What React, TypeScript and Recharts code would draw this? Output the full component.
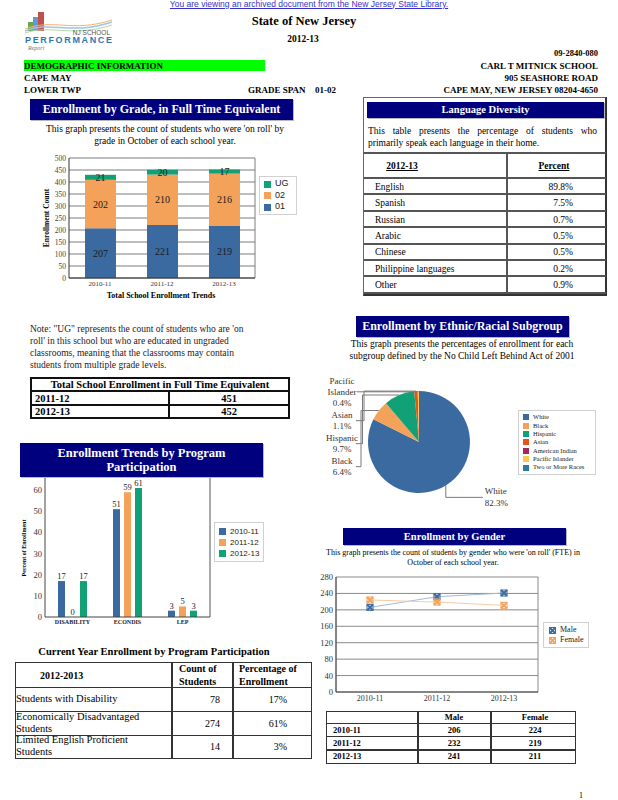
import React from 'react';
import {
  BarChart,
  Bar,
  LineChart,
  Line,
  PieChart,
  Pie,
  Cell,
  XAxis,
  YAxis,
  CartesianGrid,
  LabelList,
  Legend,
} from 'recharts';

const SERIF = '"Liberation Serif", "Times New Roman", serif';
const SANS = '"Liberation Sans", Arial, sans-serif';
const NAVY = '#00007f';
const BLUE = '#3b6aa0';
const ORANGE = '#f4a259';
const GREEN = '#12a077';

// enrollment by grade, FTE
const gradeYears = ['2010-11', '2011-12', '2012-13'];
const grade01 = [207, 221, 219];
const grade02 = [202, 210, 216];
const gradeUG = [21, 20, 17];
const gradeTicks = [0, 50, 100, 150, 200, 250, 300, 350, 400, 450, 500];

// program participation, percent of enrollment
const programs = ['DISABILITY', 'ECONDIS', 'LEP'];
const programYears = ['2010-11', '2011-12', '2012-13'];
const program1011 = [17, 51, 3];
const program1112 = [0, 59, 5];
const program1213 = [17, 61, 3];
const programTicks = [0, 10, 20, 30, 40, 50, 60, 70];

// ethnic / racial subgroup, percent
const ethnicGroups = ['White', 'Black', 'Hispanic', 'Asian', 'American Indian', 'Pacific Islander', 'Two or More Races'];
const ethnicPct = [82.3, 6.4, 9.7, 1.1, 0, 0.4, 0];
const ethnicColors = ['#3b6aa0', '#f4a259', '#12a077', '#e2561e', '#a3285e', '#fcc84a', '#2b7c9c'];

// gender
const genderYears = ['2010-11', '2011-12', '2012-13'];
const male = [206, 232, 241];
const female = [224, 219, 211];
const genderTicks = [0, 40, 80, 120, 160, 200, 240, 280];

// language diversity
const languages = ['English', 'Spanish', 'Russian', 'Arabic', 'Chinese', 'Philippine languages', 'Other'];
const languagePct = ['89.8%', '7.5%', '0.7%', '0.5%', '0.5%', '0.2%', '0.9%'];

// total enrollment
const totalYears = ['2011-12', '2012-13'];
const totalEnrollment = [451, 452];

// current year program participation
const currentPrograms = ['Students with Disability', 'Economically Disadvantaged Students', 'Limited English Proficient Students'];
const currentCounts = [78, 274, 14];
const currentPct = ['17%', '61%', '3%'];

const gradeData = gradeYears.map((year, i) => ({ year, g01: grade01[i], g02: grade02[i], ug: gradeUG[i] }));
const programData = programs.map((program, i) => ({
  program,
  y1011: program1011[i],
  y1112: program1112[i],
  y1213: program1213[i],
}));
const ethnicData = ethnicGroups.map((name, i) => ({ name, value: ethnicPct[i] }));
const genderData = genderYears.map((year, i) => ({ year, male: male[i], female: female[i] }));

type TxtProps = {
  x: number;
  y: number;
  size: number;
  bold?: boolean;
  align?: 'left' | 'center' | 'right';
  color?: string;
  font?: string;
  style?: React.CSSProperties;
  children: React.ReactNode;
};

function Txt({ x, y, size, bold, align = 'left', color = '#000', font = SERIF, style, children }: TxtProps) {
  const h = Math.round(size * 1.3);
  const pos: React.CSSProperties =
    align === 'left' ? { left: x } : align === 'right' ? { right: 618 - x } : { left: x, transform: 'translateX(-50%)' };
  return (
    <div
      style={{
        position: 'absolute',
        top: y - h / 2,
        height: h,
        lineHeight: `${h}px`,
        fontSize: size,
        fontWeight: bold ? 'bold' : 'normal',
        fontFamily: font,
        color,
        whiteSpace: 'nowrap',
        ...pos,
        ...style,
      }}
    >
      {children}
    </div>
  );
}

function RotTxt({ x, y, size, children }: { x: number; y: number; size: number; children: React.ReactNode }) {
  return (
    <div
      style={{
        position: 'absolute',
        left: x,
        top: y,
        transform: 'translate(-50%, -50%) rotate(-90deg)',
        fontSize: size,
        fontWeight: 'bold',
        fontFamily: SERIF,
        whiteSpace: 'nowrap',
      }}
    >
      {children}
    </div>
  );
}

function TitleBar({ x, y, w, h, size, lines }: { x: number; y: number; w: number; h: number; size: number; lines: string[] }) {
  return (
    <div
      style={{
        position: 'absolute',
        left: x,
        top: y,
        width: w,
        height: h,
        background: NAVY,
        color: '#fff',
        fontWeight: 'bold',
        fontSize: size,
        fontFamily: SERIF,
        display: 'flex',
        flexDirection: 'column',
        justifyContent: 'center',
        alignItems: 'center',
        lineHeight: `${Math.round(size * 1.12)}px`,
        boxShadow: '1px 1px 0 #b8b8b8',
        zIndex: 5,
      }}
    >
      {lines.map((l) => (
        <div key={l}>{l}</div>
      ))}
    </div>
  );
}

function Line2({ x, y, w, h, c = '#444' }: { x: number; y: number; w: number; h: number; c?: string }) {
  return <div style={{ position: 'absolute', left: x, top: y, width: w, height: h, background: c }} />;
}

type LegendItem = { label: string; color: string };

function BoxLegend({
  items,
  width,
  height,
  size,
  font,
  rowH,
  swatch,
  marker,
}: {
  items: LegendItem[];
  width: number;
  height: number;
  size: number;
  font: string;
  rowH: number;
  swatch: number;
  marker?: (c: string) => React.ReactNode;
}) {
  return (
    <div
      style={{
        width,
        height,
        boxSizing: 'border-box',
        border: '1px solid #d0d0d0',
        background: '#fff',
        display: 'flex',
        flexDirection: 'column',
        justifyContent: 'center',
        paddingLeft: 4,
      }}
    >
      {items.map((it) => (
        <div
          key={it.label}
          style={{
            display: 'flex',
            alignItems: 'center',
            height: rowH,
            lineHeight: `${rowH}px`,
            fontSize: size,
            fontFamily: font,
            color: '#222',
            whiteSpace: 'nowrap',
          }}
        >
          {marker ? (
            marker(it.color)
          ) : (
            <span style={{ width: swatch, height: swatch, background: it.color, marginRight: 4, flexShrink: 0 }} />
          )}
          {it.label}
        </div>
      ))}
    </div>
  );
}

function XMark({ cx, cy, color }: { cx?: number; cy?: number; color: string }) {
  if (cx == null || cy == null) return null;
  const s = 3;
  return (
    <g>
      <rect x={cx - s} y={cy - s} width={2 * s} height={2 * s} fill="none" stroke={color} strokeWidth={1} />
      <path
        d={`M${cx - s},${cy - s} L${cx + s},${cy + s} M${cx + s},${cy - s} L${cx - s},${cy + s}`}
        stroke={color}
        strokeWidth={2}
      />
    </g>
  );
}

// pie labels: the small slices are stacked in a column on the left
const RADIAN = Math.PI / 180;
const LABEL_LH = 11.3;

function ethnicLines(i: number) {
  const name = ethnicGroups[i];
  const nameLines = name === 'Pacific Islander' ? ['Pacific', 'Islander'] : [name];
  return [...nameLines, `${ethnicPct[i].toFixed(1)}%`];
}

const sideTops: Record<number, number> = {};
(() => {
  let top = 19;
  let first = true;
  ethnicPct.forEach((v, i) => {
    if (i === 0 || v <= 0) return;
    const n = ethnicLines(i).length;
    top = first ? 19 : top - n * 11.5;
    first = false;
    sideTops[i] = top;
  });
})();

function renderEthnicLabel(props: any) {
  const { cx, cy, midAngle, outerRadius, index } = props;
  const v = ethnicPct[index];
  if (!v) return null;
  const ex = cx + outerRadius * Math.cos(-midAngle * RADIAN);
  const ey = cy + outerRadius * Math.sin(-midAngle * RADIAN);
  const lines = ethnicLines(index);
  if (index === 0) {
    return (
      <g key={`lbl-${index}`}>
        <path d={`M${ex},${ey} V${ey + 12} H${ex + 37}`} stroke="#7a7a7a" fill="none" />
        {lines.map((t, k) => (
          <text key={t} x={ex + 39} y={ey + 6 + k * LABEL_LH} dominantBaseline="central" fontSize={9} fontFamily={SERIF} fill="#333">
            {t}
          </text>
        ))}
      </g>
    );
  }
  const top = cy + sideTops[index];
  const lx = cx - 77;
  const ly = lines.length === 3 ? top + LABEL_LH : top + LABEL_LH / 2;
  const elbow = cx - 58 + (Math.min(index, 3) - 1) * 1.5;
  const d =
    lines.length === 3
      ? `M${cx - 62},${ly} H${ex}`
      : `M${cx - 63},${ly} H${elbow} V${ey} H${ex}`;
  return (
    <g key={`lbl-${index}`}>
      <path d={d} stroke="#7a7a7a" fill="none" />
      {lines.map((t, k) => (
        <text key={t} x={lx} y={top + k * LABEL_LH} textAnchor="middle" dominantBaseline="central" fontSize={9} fontFamily={SERIF} fill="#333">
          {t}
        </text>
      ))}
    </g>
  );
}

const rightEdge = ({ width, offset }: any) => [width - offset.right];
const bothEdges = ({ width, offset }: any) => [offset.left, width - offset.right];

function Logo() {
  return (
    <svg style={{ position: 'absolute', left: 0, top: 0 }} width={120} height={56}>
      <rect x={28} y={22} width={5} height={9} fill="#6aa84f" />
      <rect x={33} y={17} width={5} height={14} fill="#5b9bd5" />
      <rect x={38} y={12} width={6} height={19} fill="#c0504d" />
      <path d="M25,31 C50,20 70,36 112,22" stroke="#9fc5e8" strokeWidth={1.5} fill="none" />
      <path d="M25,29 C52,18 72,33 112,20" stroke="#f6b26b" strokeWidth={1} fill="none" />
      <path d="M25,33 C50,24 72,38 112,25" stroke="#b6d7a8" strokeWidth={1} fill="none" />
      <text x={110} y={35} textAnchor="end" fontSize={6.5} fontFamily={SANS} fill="#555">NJ SCHOOL</text>
      <text x={25} y={43} fontSize={9} fontWeight="bold" fontFamily={SANS} fill="#2e75b6" textLength={87}>PERFORMANCE</text>
      <text x={28} y={50} fontSize={6} fontStyle="italic" fontFamily={SERIF} fill="#777">Report</text>
    </svg>
  );
}

export default function App() {
  const langTop = 153;
  const langHead = 25;
  const langRow = 16.4;
  return (
    <div
      style={{
        position: 'absolute',
        left: 0,
        top: 0,
        width: 618,
        height: 800,
        background: '#fff',
        overflow: 'hidden',
        fontFamily: SERIF,
        color: '#000',
      }}
    >
      {/* header */}
      <Txt x={309} y={4} size={8.5} align="center" font={SANS} color="#3333cc" style={{ textDecoration: 'underline' }}>
        You are viewing an archived document from the New Jersey State Library.
      </Txt>
      <Logo />
      <Txt x={304} y={21} size={12.5} bold align="center">State of New Jersey</Txt>
      <Txt x={303} y={39} size={9.5} bold align="center">2012-13</Txt>
      <Txt x={598} y={53} size={8.5} bold align="right">09-2840-080</Txt>
      <div style={{ position: 'absolute', left: 24, top: 60, width: 241, height: 11, background: '#00ff00' }} />
      <Txt x={24} y={65.5} size={9} bold>DEMOGRAPHIC INFORMATION</Txt>
      <Txt x={598} y={65.5} size={9} bold align="right">CARL T MITNICK SCHOOL</Txt>
      <Txt x={24} y={78} size={9} bold>CAPE MAY</Txt>
      <Txt x={598} y={78} size={9} bold align="right">905 SEASHORE ROAD</Txt>
      <Txt x={24} y={90} size={9} bold>LOWER TWP</Txt>
      <Txt x={248} y={90} size={9} bold>GRADE SPAN</Txt>
      <Txt x={315} y={90} size={9} bold>01-02</Txt>
      <Txt x={598} y={90} size={9} bold align="right">CAPE MAY, NEW JERSEY 08204-4650</Txt>

      {/* enrollment by grade */}
      <TitleBar x={30} y={99} w={263} h={21} size={12} lines={['Enrollment by Grade, in Full Time Equivalent']} />
      <Txt x={165} y={129} size={9.5} align="center">This graph presents the count of students who were 'on roll' by</Txt>
      <Txt x={165} y={141} size={9.5} align="center">grade in October of each school year.</Txt>
      <div style={{ position: 'absolute', left: 20, top: 150 }}>
        <BarChart width={280} height={150} data={gradeData} margin={{ top: 8, right: 45, bottom: 0, left: 0 }}>
          <CartesianGrid stroke="#7d7d7d" verticalCoordinatesGenerator={rightEdge} />
          <XAxis
            dataKey="year"
            height={22}
            interval={0}
            tickSize={2}
            tickMargin={1}
            tickLine={false}
            axisLine={{ stroke: '#333' }}
            tick={{ fontSize: 7, fill: '#333', fontFamily: SERIF }}
          />
          <YAxis
            domain={[0, 500]}
            ticks={gradeTicks}
            interval={0}
            width={49}
            tickSize={2}
            tickMargin={1}
            tickLine={false}
            axisLine={{ stroke: '#333' }}
            tick={{ fontSize: 7.5, fill: '#444', fontFamily: SERIF }}
          />
          <Bar dataKey="g01" name="01" stackId="a" fill={BLUE} barSize={31} isAnimationActive={false}>
            <LabelList dataKey="g01" position="center" fill="#1a1a1a" fontSize={10} fontFamily={SERIF} />
          </Bar>
          <Bar dataKey="g02" name="02" stackId="a" fill={ORANGE} barSize={31} isAnimationActive={false}>
            <LabelList dataKey="g02" position="center" fill="#1a1a1a" fontSize={10} fontFamily={SERIF} />
          </Bar>
          <Bar dataKey="ug" name="UG" stackId="a" fill={GREEN} barSize={31} isAnimationActive={false}>
            <LabelList dataKey="ug" position="center" fill="#1a1a1a" fontSize={10} fontFamily={SERIF} />
          </Bar>
          <Legend
            layout="vertical"
            align="center"
            verticalAlign="middle"
            wrapperStyle={{ left: 239, top: 26, width: 38 }}
            content={() => (
              <BoxLegend
                items={[
                  { label: 'UG', color: GREEN },
                  { label: '02', color: ORANGE },
                  { label: '01', color: BLUE },
                ]}
                width={38}
                height={39}
                size={9}
                font={SANS}
                rowH={11.5}
                swatch={7}
              />
            )}
          />
        </BarChart>
      </div>
      <RotTxt x={46} y={218} size={7.5}>Enrollment Count</RotTxt>
      <Txt x={161} y={296} size={8} bold align="center">Total School Enrollment Trends</Txt>

      {/* language diversity */}
      <div
        style={{
          position: 'absolute',
          left: 363,
          top: 97,
          width: 244,
          height: 199,
          boxSizing: 'border-box',
          border: '1px solid #666',
          borderRight: '2px solid #333',
          borderBottom: '2px solid #333',
        }}
      />
      <TitleBar x={367} y={102} w={237} h={16} size={10.5} lines={['Language Diversity']} />
      <div
        style={{
          position: 'absolute',
          left: 368,
          top: 125,
          width: 229,
          fontSize: 9.5,
          lineHeight: '12px',
          fontFamily: SERIF,
        }}
      >
        <div style={{ textAlign: 'justify', textAlignLast: 'justify' }}>This table presents the percentage of students who</div>
        <div>primarily speak each language in their home.</div>
      </div>
      <Line2 x={364} y={152} w={242} h={2} c="#555" />
      <Line2 x={506} y={152} w={2} h={142} c="#555" />
      <Txt x={402} y={166} size={9.5} bold align="center" style={{ textDecoration: 'underline' }}>2012-13</Txt>
      <Txt x={554} y={166} size={9.5} bold align="center" style={{ textDecoration: 'underline' }}>Percent</Txt>
      {languages.map((lang, i) => {
        const top = langTop + langHead + i * langRow;
        return (
          <React.Fragment key={lang}>
            <Line2 x={364} y={top - 1} w={242} h={2} c="#555" />
            <Txt x={375} y={top + langRow / 2 + 0.5} size={9.5}>{lang}</Txt>
            <Txt x={573} y={top + langRow / 2 + 0.5} size={9.5} align="right">{languagePct[i]}</Txt>
          </React.Fragment>
        );
      })}
      <Line2 x={364} y={langTop + langHead + languages.length * langRow - 1} w={242} h={2} c="#555" />

      {/* note + total enrollment */}
      <div style={{ position: 'absolute', left: 30, top: 323, fontSize: 9.5, lineHeight: '12px', fontFamily: SERIF, color: '#222' }}>
        <div>Note: "UG" represents the count of students who are 'on</div>
        <div>roll' in this school but who are educated in ungraded</div>
        <div>classrooms, meaning that the classrooms may contain</div>
        <div>students from multiple grade levels.</div>
      </div>
      <div style={{ position: 'absolute', left: 30, top: 377, width: 260, height: 42, boxSizing: 'border-box', border: '2px solid #111' }} />
      <Txt x={160} y={384.5} size={10.5} bold align="center">Total School Enrollment in Full Time Equivalent</Txt>
      {totalYears.map((yr, i) => (
        <React.Fragment key={yr}>
          <Line2 x={30} y={390 + i * 14} w={260} h={2} c="#111" />
          <Txt x={35} y={398.5 + i * 13.5} size={10.5} bold>{yr}</Txt>
          <Txt x={229} y={398.5 + i * 13.5} size={10.5} bold align="center">{totalEnrollment[i]}</Txt>
        </React.Fragment>
      ))}
      <Line2 x={168} y={391} w={2} h={27} c="#111" />

      {/* ethnic / racial subgroup */}
      <TitleBar x={356} y={316} w={213} h={21} size={12} lines={['Enrollment by Ethnic/Racial Subgroup']} />
      <Txt x={462} y={344} size={9.5} align="center">This graph presents the percentages of enrollment for each</Txt>
      <Txt x={462} y={355.5} size={9.5} align="center">subgroup defined by the No Child Left Behind Act of 2001</Txt>
      <div style={{ position: 'absolute', left: 320, top: 370 }}>
        <PieChart width={298} height={150} margin={{ top: 0, right: 0, bottom: 0, left: 0 }}>
          <Pie
            data={ethnicData}
            dataKey="value"
            nameKey="name"
            cx={99}
            cy={72}
            outerRadius={51}
            startAngle={90}
            endAngle={-270}
            stroke="none"
            label={renderEthnicLabel}
            labelLine={false}
            isAnimationActive={false}
          >
            {ethnicData.map((d, i) => (
              <Cell key={d.name} fill={ethnicColors[i]} />
            ))}
          </Pie>
          <Legend
            layout="vertical"
            align="center"
            verticalAlign="middle"
            wrapperStyle={{ left: 198, top: 40, width: 78 }}
            content={() => (
              <BoxLegend
                items={ethnicGroups.map((g, i) => ({ label: g, color: ethnicColors[i] }))}
                width={78}
                height={65}
                size={6.5}
                font={SERIF}
                rowH={8.4}
                swatch={6}
              />
            )}
          />
        </PieChart>
      </div>

      {/* program participation trends */}
      <div style={{ position: 'absolute', left: 0, top: 460 }}>
        <BarChart width={270} height={170} data={programData} margin={{ top: 9, right: 60, bottom: 0, left: 0 }} barGap={4}>
          <CartesianGrid horizontal={false} stroke="#555" verticalCoordinatesGenerator={rightEdge} />
          <XAxis
            dataKey="program"
            height={13}
            interval={0}
            tickSize={2}
            tickMargin={1}
            tickLine={false}
            axisLine={{ stroke: '#444' }}
            tick={{ fontSize: 6, fontWeight: 'bold', fill: '#222', fontFamily: SERIF }}
          />
          <YAxis
            domain={[0, 70]}
            ticks={programTicks}
            interval={0}
            width={45}
            tickSize={2}
            tickMargin={1}
            tickLine={false}
            axisLine={{ stroke: '#444' }}
            tick={{ fontSize: 8.5, fill: '#333', fontFamily: SERIF }}
          />
          <Bar dataKey="y1011" name={programYears[0]} fill={BLUE} barSize={7} minPointSize={0.01} isAnimationActive={false}>
            <LabelList dataKey="y1011" position="top" offset={2} fill="#222" fontSize={8.5} fontFamily={SERIF} />
          </Bar>
          <Bar dataKey="y1112" name={programYears[1]} fill={ORANGE} barSize={7} minPointSize={0.01} isAnimationActive={false}>
            <LabelList dataKey="y1112" position="top" offset={2} fill="#222" fontSize={8.5} fontFamily={SERIF} />
          </Bar>
          <Bar dataKey="y1213" name={programYears[2]} fill={GREEN} barSize={7} minPointSize={0.01} isAnimationActive={false}>
            <LabelList dataKey="y1213" position="top" offset={2} fill="#222" fontSize={8.5} fontFamily={SERIF} />
          </Bar>
          <Legend
            layout="vertical"
            align="center"
            verticalAlign="middle"
            wrapperStyle={{ left: 214, top: 62, width: 50 }}
            content={() => (
              <BoxLegend
                items={programYears.map((y, i) => ({ label: y, color: [BLUE, ORANGE, GREEN][i] }))}
                width={50}
                height={40}
                size={8}
                font={SANS}
                rowH={11}
                swatch={7}
              />
            )}
          />
        </BarChart>
      </div>
      <TitleBar x={20} y={443} w={243} h={34} size={12.5} lines={['Enrollment Trends by Program', 'Participation']} />
      <RotTxt x={24} y={548} size={6}>Percent of Enrollment</RotTxt>

      {/* current year program table */}
      <Txt x={154} y={652} size={10.5} bold align="center">Current Year Enrollment by Program Participation</Txt>
      <div style={{ position: 'absolute', left: 15, top: 662, width: 297, height: 97, boxSizing: 'border-box', border: '1.5px solid #333' }} />
      <Line2 x={171} y={662} w={1.5} h={96} c="#333" />
      <Line2 x={232} y={662} w={1.5} h={96} c="#333" />
      <Txt x={40} y={675} size={10} bold>2012-2013</Txt>
      <div style={{ position: 'absolute', left: 179, top: 662, fontSize: 10, fontWeight: 'bold', lineHeight: '13px', fontFamily: SERIF }}>
        <div>Count of</div>
        <div>Students</div>
      </div>
      <div style={{ position: 'absolute', left: 239, top: 662, fontSize: 10, fontWeight: 'bold', lineHeight: '13px', fontFamily: SERIF }}>
        <div>Percentage of</div>
        <div>Enrollment</div>
      </div>
      {currentPrograms.map((p, i) => {
        const top = 687 + i * 24;
        const h = i === 2 ? 22 : 24.5;
        return (
          <React.Fragment key={p}>
            <Line2 x={15} y={top - 0.5} w={297} h={1.5} c="#333" />
            <div
              style={{
                position: 'absolute',
                left: 16,
                top,
                width: 125,
                height: h,
                display: 'flex',
                alignItems: 'center',
                fontSize: 10.5,
                lineHeight: '12.5px',
                fontFamily: SERIF,
              }}
            >
              {p}
            </div>
            <Txt x={220} y={top + h / 2} size={10} align="right">{currentCounts[i]}</Txt>
            <Txt x={287} y={top + h / 2} size={10} align="right">{currentPct[i]}</Txt>
          </React.Fragment>
        );
      })}

      {/* gender */}
      <TitleBar x={343} y={528} w={223} h={17} size={10.5} lines={['Enrollment by Gender']} />
      <Txt x={453} y={553} size={8} align="center">This graph presents the count of students by gender who were 'on roll' (FTE) in</Txt>
      <Txt x={453} y={563} size={8} align="center">October of each school year.</Txt>
      <div style={{ position: 'absolute', left: 305, top: 570 }}>
        <LineChart width={290} height={136} data={genderData} margin={{ top: 7, right: 57, bottom: 0, left: 0 }}>
          <CartesianGrid stroke="#8a8a8a" verticalCoordinatesGenerator={bothEdges} />
          <XAxis
            dataKey="year"
            padding={{ left: 34, right: 34 }}
            height={14}
            interval={0}
            tickSize={2}
            tickMargin={1}
            tickLine={false}
            axisLine={{ stroke: '#444' }}
            tick={{ fontSize: 8, fill: '#333', fontFamily: SERIF }}
          />
          <YAxis
            domain={[0, 280]}
            ticks={genderTicks}
            interval={0}
            width={31}
            tickSize={2}
            tickMargin={1}
            tickLine={false}
            axisLine={{ stroke: '#444' }}
            tick={{ fontSize: 8.5, fill: '#333', fontFamily: SERIF }}
          />
          <Line
            dataKey="male"
            name="Male"
            stroke="#a3b9d9"
            strokeWidth={1}
            dot={(p: any) => <XMark key={`m-${p.index}`} cx={p.cx} cy={p.cy} color={BLUE} />}
            isAnimationActive={false}
          />
          <Line
            dataKey="female"
            name="Female"
            stroke="#f8cca2"
            strokeWidth={1}
            dot={(p: any) => <XMark key={`f-${p.index}`} cx={p.cx} cy={p.cy} color={ORANGE} />}
            isAnimationActive={false}
          />
          <Legend
            layout="vertical"
            align="center"
            verticalAlign="middle"
            wrapperStyle={{ left: 238, top: 52, width: 46 }}
            content={() => (
              <BoxLegend
                items={[
                  { label: 'Male', color: BLUE },
                  { label: 'Female', color: ORANGE },
                ]}
                width={46}
                height={26}
                size={8}
                font={SERIF}
                rowH={10}
                swatch={7}
                marker={(c) => (
                  <svg width={9} height={9} style={{ marginRight: 3, flexShrink: 0 }}>
                    <XMark cx={4.5} cy={4.5} color={c} />
                  </svg>
                )}
              />
            )}
          />
        </LineChart>
      </div>

      {/* gender table */}
      <div style={{ position: 'absolute', left: 326, top: 711, width: 250, height: 53, boxSizing: 'border-box', border: '1.5px solid #333' }} />
      <Line2 x={417} y={711} w={1.5} h={52} c="#333" />
      <Line2 x={490} y={711} w={1.5} h={52} c="#333" />
      <Txt x={454} y={717.5} size={8.5} bold align="center">Male</Txt>
      <Txt x={535} y={717.5} size={8.5} bold align="center">Female</Txt>
      {genderYears.map((yr, i) => {
        const top = 723 + i * 13.3;
        return (
          <React.Fragment key={yr}>
            <Line2 x={326} y={top - 0.5} w={250} h={1.5} c="#333" />
            <Txt x={333} y={top + 7} size={8.5} bold>{yr}</Txt>
            <Txt x={454} y={top + 7} size={8.5} bold align="center">{male[i]}</Txt>
            <Txt x={535} y={top + 7} size={8.5} bold align="center">{female[i]}</Txt>
          </React.Fragment>
        );
      })}

      <Txt x={579} y={796} size={8}>1</Txt>
    </div>
  );
}
